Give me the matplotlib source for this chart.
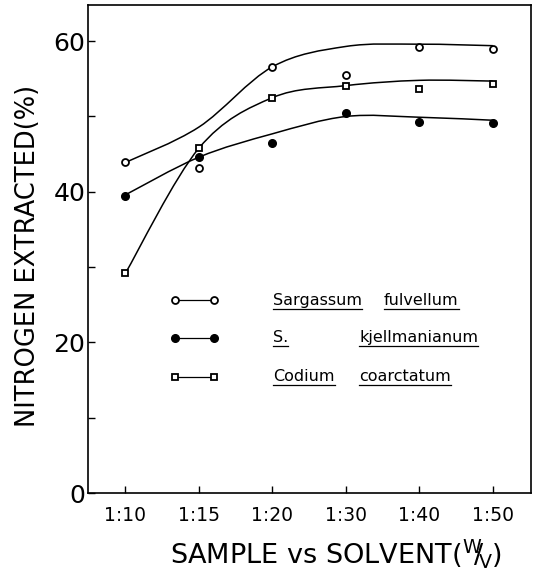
import matplotlib
matplotlib.use('Agg')
import matplotlib.pyplot as plt
from matplotlib.path import Path
from matplotlib.patches import PathPatch
import numpy as np

# Step 1: data
ratios = ['1:10', '1:15', '1:20', '1:30', '1:40', '1:50']
sargassum = [43.9, 43.1, 56.6, 55.5, 59.2, 58.9]
kjellmanianum = [39.4, 44.6, 46.5, 50.4, 49.3, 49.2]
codium = [29.2, 45.8, 52.5, 54.1, 53.6, 54.3]

# hand-drawn fitted curves (values where each curve crosses the ratio lines)
sargassum_fit = [43.9, 48.6, 56.6, 59.3, 59.6, 59.4]
kjellmanianum_fit = [39.6, 44.6, 47.7, 50.0, 49.9, 49.5]
codium_fit = [29.2, 45.8, 52.5, 54.1, 54.8, 54.7]

legend_names = [('Sargassum', 'fulvellum'), ('S.', 'kjellmanianum'), ('Codium', 'coarctatum')]


def smooth_path(xs, ys):
    # Catmull-Rom through the curve values, drawn as cubic Bezier segments
    pts = np.column_stack([xs, ys]).astype(float)
    ext = np.vstack([pts[0], pts, pts[-1]])
    verts = [pts[0]]
    codes = [Path.MOVETO]
    for i in range(1, len(ext) - 2):
        p0, p1, p2, p3 = ext[i - 1], ext[i], ext[i + 1], ext[i + 2]
        verts += [p1 + (p2 - p0) / 6, p2 - (p3 - p1) / 6, p2]
        codes += [Path.CURVE4] * 3
    return Path(verts, codes)


# Step 2: figure and axes
fig = plt.figure(figsize=(5.37, 5.78), dpi=100)
ax = fig.add_axes([0.1639, 0.147, 0.825, 0.8443])
x = np.arange(len(ratios))

for fit in [sargassum_fit, kjellmanianum_fit, codium_fit]:
    ax.add_patch(PathPatch(smooth_path(x, fit), fill=False, edgecolor='black', lw=1.1))

ax.plot(x, sargassum, 'o', ms=5, mfc='white', mec='black', mew=1.3, ls='none')
ax.plot(x, kjellmanianum, 'o', ms=5.5, mfc='black', mec='black', ls='none')
ax.plot(x, codium, 's', ms=5, mfc='white', mec='black', mew=1.3, ls='none')

# Step 3: hand-made legend inside the plot
styles = [dict(marker='o', mfc='white', ms=5, mew=1.3),
          dict(marker='o', mfc='black', ms=5.5),
          dict(marker='s', mfc='white', ms=5, mew=1.3)]
rows = [0.395, 0.318, 0.238]
second_x = [0.668, 0.612, 0.612]
texts = []
for (first, second), st, yy, x2 in zip(legend_names, styles, rows, second_x):
    ax.plot([0.196, 0.284], [yy, yy], color='black', lw=0.9, mec='black',
            transform=ax.transAxes, **st)
    texts.append(ax.text(0.418, yy, first, transform=ax.transAxes, fontsize=11.5, va='center'))
    texts.append(ax.text(x2, yy, second, transform=ax.transAxes, fontsize=11.5, va='center'))

# Step 4: axes decorations
ax.set_xlim(-0.51, 5.52)
ax.set_ylim(0, 64.8)
ax.set_xticks(x)
ax.set_xticklabels(ratios)
ax.set_yticks([0, 20, 40, 60])
ax.set_yticks([10, 30, 50], minor=True)
ax.tick_params(axis='both', which='both', direction='in', length=5, width=1)
ax.tick_params(axis='x', labelsize=13.5, pad=9)
ax.tick_params(axis='y', labelsize=18, pad=2)
for s in ax.spines.values():
    s.set_linewidth(1.2)

fig.text(0.052, 0.558, 'NITROGEN EXTRACTED(%)', rotation=90, fontsize=18.5,
         ha='center', va='center')
fig.text(0.625, 0.043, r'SAMPLE vs SOLVENT($^{\mathsf{W}}\!\!/\!_{\mathsf{V}}$)',
         fontsize=19.5, ha='center', va='center')

# underline the species names
fig.canvas.draw()
r = fig.canvas.get_renderer()
inv = fig.transFigure.inverted()
for t in texts:
    bb = t.get_window_extent(renderer=r)
    (x0, y0), (x1, _) = inv.transform([[bb.x0, bb.y0 - 1], [bb.x1, bb.y0]])
    fig.add_artist(plt.Line2D([x0, x1], [y0, y0], color='black', lw=0.9,
                              transform=fig.transFigure))

# Step 5: save
plt.savefig('out.png', dpi=100)
